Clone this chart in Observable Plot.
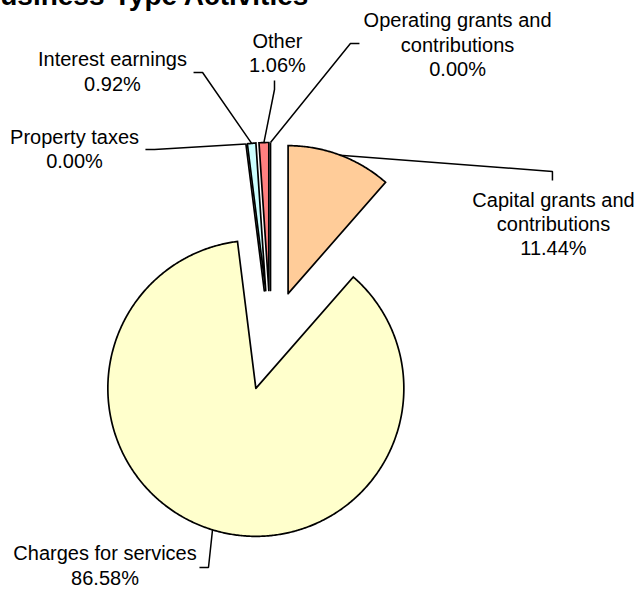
<!DOCTYPE html>
<html>
<head>
<meta charset="utf-8">
<script src="https://cdn.jsdelivr.net/npm/d3@7"></script>
<script src="https://cdn.jsdelivr.net/npm/@observablehq/plot@0.6"></script>
<style>
  body { margin: 0; background: #fff; overflow: hidden; }
  #wrap { position: relative; width: 638px; height: 591px; overflow: hidden; }
  #title { position: absolute; left: -20px; top: -18px; font: bold 28px "Liberation Sans", Arial, sans-serif; line-height: 28px; white-space: nowrap; color: #000; }
  #chart { position: absolute; left: 0; top: 0; }
</style>
</head>
<body>
<div id="wrap">
  <div id="title">Business-Type Activities</div>
  <div id="chart"></div>
</div>
<script>
// ---- data (clockwise from 12 o'clock) ----
const categories = [
  "Capital grants and contributions",
  "Charges for services",
  "Property taxes",
  "Interest earnings",
  "Other",
  "Operating grants and contributions"
];
const shares = [11.44, 86.58, 0.00, 0.92, 1.06, 0.00];
const labelNames = [
  "Capital grants and\ncontributions",
  "Charges for services",
  "Property taxes",
  "Interest earnings",
  "Other",
  "Operating grants and\ncontributions"
];
const fills = ["#FFCC99", "#FFFFCC", "#FFFFFF", "#CCFFFF", "#FF8080", "#FFFFFF"];

// ---- layout (chart units: pie radius = 1, origin at pie centre, y up) ----
const explode = 0.338;
const labelSide = ["below", "left", "left", "left", "above", "right"];
const labelAt = [[1.912, 1.022], [-1.118, -1.516], [-1.324, 1.299], [-1.068, 1.822], [0.047, 1.811], [1.264, 2.005]];
const leaderEnd = [[1.905, 1.081], [-0.480, -1.534], [-0.845, 1.291], [-0.520, 1.811], [0.027, 1.757], [0.601, 2.007]];
const elbowLen = 0.061;

// ---- geometry ----
const total = d3.sum(shares);
let acc = 0;
const slices = categories.map((c, i) => {
  const a0 = acc / total * 2 * Math.PI;
  acc += shares[i];
  const a1 = acc / total * 2 * Math.PI;
  const mid = (a0 + a1) / 2;
  return {c, i, a0, a1, mid, ox: explode * Math.sin(mid), oy: explode * Math.cos(mid)};
});

const wedges = slices.map(s => {
  const pts = [{c: s.c, x: s.ox, y: s.oy}];
  const n = Math.max(1, Math.ceil((s.a1 - s.a0) / (Math.PI / 360)));
  for (let k = 0; k <= n; ++k) {
    const a = s.a0 + (s.a1 - s.a0) * k / n;
    pts.push({c: s.c, x: s.ox + Math.sin(a), y: s.oy + Math.cos(a)});
  }
  pts.push({c: s.c, x: s.ox, y: s.oy});
  return pts;
});

const leaders = slices.flatMap(s => {
  const [ex, ey] = leaderEnd[s.i];
  const side = labelSide[s.i];
  const bx = side === "left" ? ex + elbowLen : side === "right" ? ex - elbowLen : ex;
  const by = side === "below" ? ey + elbowLen : side === "above" ? ey - elbowLen : ey;
  return [
    {c: s.c, x: s.ox + Math.sin(s.mid), y: s.oy + Math.cos(s.mid)},
    {c: s.c, x: bx, y: by},
    {c: s.c, x: ex, y: ey}
  ];
});

const labels = slices.map(s => ({
  c: s.c,
  side: labelSide[s.i],
  x: labelAt[s.i][0],
  y: labelAt[s.i][1],
  text: labelNames[s.i] + "\n" + shares[s.i].toFixed(2) + "%"
}));

const lineAnchors = {below: "top", above: "bottom", left: "middle", right: "middle"};

const font = "'Liberation Sans', Arial, sans-serif";

const marks = [
  ...wedges.map((pts, i) => Plot.line(pts, {
    x: "x", y: "y", curve: "linear",
    fill: fills[i], stroke: "black", strokeWidth: 1.7,
    strokeLinejoin: "miter", strokeMiterlimit: 4
  })),
  Plot.line(leaders, {x: "x", y: "y", z: "c", stroke: "black", strokeWidth: 1.5, strokeLinejoin: "miter", strokeLinecap: "butt"}),
  ...Object.entries(lineAnchors).map(([side, la]) => Plot.text(labels.filter(d => d.side === side), {
    x: "x", y: "y", text: "text",
    textAnchor: "middle", lineAnchor: la,
    fontSize: 20, lineHeight: 1.22, fill: "black", fontFamily: font
  }))
];

const chart = Plot.plot({
  width: 638,
  height: 591,
  margin: 0,
  x: {domain: [-270 / 148, 368 / 148], axis: null},
  y: {domain: [-251 / 148, 340 / 148], axis: null},
  style: {background: "transparent", fontFamily: font, overflow: "visible"},
  marks
});
document.getElementById("chart").appendChild(chart);
</script>
</body>
</html>
